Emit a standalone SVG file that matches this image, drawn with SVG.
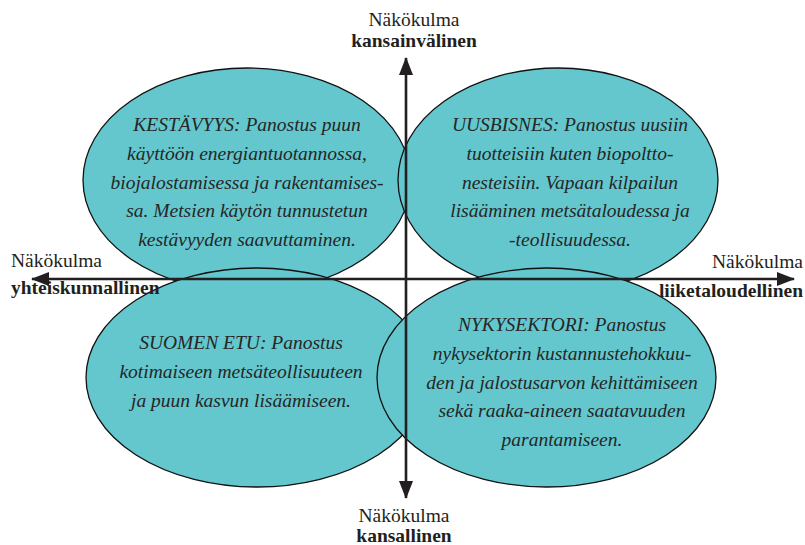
<svg xmlns="http://www.w3.org/2000/svg" width="805" height="545" viewBox="0 0 805 545">
<style>
.bg{fill:#ffffff}
.ell{fill:#63c7cd;stroke:#111;stroke-width:1.3}
.body{font-family:"Liberation Serif","DejaVu Serif",serif;font-style:italic;font-size:19.5px;fill:#262626;text-anchor:middle}
.lab{font-family:"Liberation Serif","DejaVu Serif",serif;font-size:19.5px;fill:#231f20}
.b{font-weight:bold}
.axis{stroke:#231f20;stroke-width:2.6;fill:none}
</style>
<defs>
<marker id="ah" viewBox="0 0 18 14" refX="17" refY="7" markerWidth="18" markerHeight="14" markerUnits="userSpaceOnUse" orient="auto">
<path d="M0,0 L18,7 L0,14 Z" fill="#231f20"/>
</marker>
</defs>
<rect class="bg" x="0" y="0" width="805" height="545"/>
<g id="kestavyys">
<ellipse class="ell" cx="247" cy="180" rx="164" ry="112"/>
<text class="body" x="247"><tspan x="247" y="131">KESTÄVYYS: Panostus puun</tspan><tspan x="247" y="160">käyttöön energiantuotannossa,</tspan><tspan x="247" y="189">biojalostamisessa ja rakentamises-</tspan><tspan x="247" y="217">sa. Metsien käytön tunnustetun</tspan><tspan x="247" y="246">kestävyyden saavuttaminen.</tspan></text>
</g>
<g id="uusbisnes">
<ellipse class="ell" cx="558" cy="180" rx="160" ry="112"/>
<text class="body" x="570"><tspan x="570" y="131">UUSBISNES: Panostus uusiin</tspan><tspan x="570" y="160">tuotteisiin kuten biopoltto-</tspan><tspan x="570" y="189">nesteisiin. Vapaan kilpailun</tspan><tspan x="570" y="217">lisääminen metsätaloudessa ja</tspan><tspan x="570" y="246">-teollisuudessa.</tspan></text>
</g>
<g id="suomen-etu">
<ellipse class="ell" cx="257" cy="377.5" rx="171" ry="109.5"/>
<text class="body" x="241"><tspan x="241" y="349">SUOMEN ETU: Panostus</tspan><tspan x="241" y="378">kotimaiseen metsäteollisuuteen</tspan><tspan x="241" y="407">ja puun kasvun lisäämiseen.</tspan></text>
</g>
<g id="nykysektori">
<ellipse class="ell" cx="546.5" cy="377.5" rx="169.5" ry="109.5"/>
<text class="body" x="562"><tspan x="562" y="331">NYKYSEKTORI: Panostus</tspan><tspan x="562" y="360">nykysektorin kustannustehokkuu-</tspan><tspan x="562" y="389">den ja jalostusarvon kehittämiseen</tspan><tspan x="562" y="417">sekä raaka-aineen saatavuuden</tspan><tspan x="562" y="446">parantamiseen.</tspan></text>
</g>
<g id="connectors">
<line class="axis" x1="406" y1="279" x2="406" y2="58" marker-end="url(#ah)"/>
<line class="axis" x1="406" y1="279" x2="406" y2="498" marker-end="url(#ah)"/>
<line class="axis" x1="406" y1="279" x2="32" y2="279" marker-end="url(#ah)"/>
<line class="axis" x1="406" y1="279" x2="794" y2="279" marker-end="url(#ah)"/>
</g>
<g id="label-top">
<text class="lab" x="414" y="26" text-anchor="middle">Näkökulma</text>
<text class="lab b" x="414" y="47" text-anchor="middle">kansainvälinen</text>
</g>
<g id="label-left">
<text class="lab" x="11" y="267">Näkökulma</text>
<text class="lab b" x="11" y="294">yhteiskunnallinen</text>
</g>
<g id="label-right">
<text class="lab" x="803" y="268" text-anchor="end">Näkökulma</text>
<text class="lab b" x="803" y="297" text-anchor="end">liiketaloudellinen</text>
</g>
<g id="label-bottom">
<text class="lab" x="404" y="522" text-anchor="middle">Näkökulma</text>
<text class="lab b" x="404" y="542" text-anchor="middle">kansallinen</text>
</g>
</svg>
